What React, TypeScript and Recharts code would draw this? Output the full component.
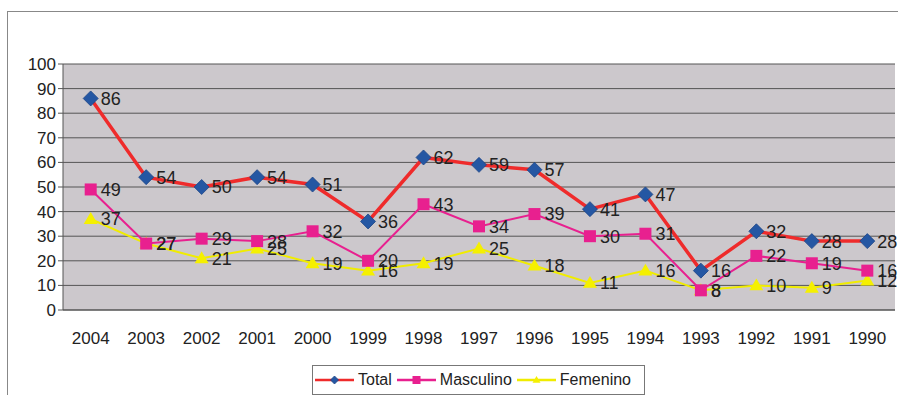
import { LineChart, Line, XAxis, YAxis, CartesianGrid, LabelList } from "recharts";

const years = ["2004", "2003", "2002", "2001", "2000", "1999", "1998", "1997", "1996", "1995", "1994", "1993", "1992", "1991", "1990"];
const total = [86, 54, 50, 54, 51, 36, 62, 59, 57, 41, 47, 16, 32, 28, 28];
const masculino = [49, 27, 29, 28, 32, 20, 43, 34, 39, 30, 31, 8, 22, 19, 16];
const femenino = [37, 27, 21, 25, 19, 16, 19, 25, 18, 11, 16, 8, 10, 9, 12];
const yTicks = [0, 10, 20, 30, 40, 50, 60, 70, 80, 90, 100];

const data = years.map((year, i) => ({
  year,
  total: total[i],
  masculino: masculino[i],
  femenino: femenino[i],
}));

const font = "'Liberation Sans', Arial, sans-serif";

// markers take "size" (recharts passes its own r to dots)
const Diamond = (props: any) => {
  const { cx, cy, size = 7.5 } = props;
  if (cx == null || cy == null) return null;
  const r = size;
  return <path d={`M${cx},${cy - r}L${cx + r},${cy}L${cx},${cy + r}L${cx - r},${cy}Z`} fill="#2557a3" stroke="#1d4586" strokeWidth={0.8} />;
};

const Square = (props: any) => {
  const { cx, cy, size = 6 } = props;
  if (cx == null || cy == null) return null;
  return <rect x={cx - size} y={cy - size} width={size * 2} height={size * 2} fill="#e8208f" />;
};

const Triangle = (props: any) => {
  const { cx, cy, size = 7 } = props;
  if (cx == null || cy == null) return null;
  const r = size;
  return <path d={`M${cx},${cy - r}L${cx + r},${cy + r * 0.7}L${cx - r},${cy + r * 0.7}Z`} fill="#f5f000" />;
};

const legendItems = [
  { name: "Total", line: "#ef2b2b", Mark: Diamond, gap: 5 },
  { name: "Masculino", line: "#e8208f", Mark: Square, gap: 5 },
  { name: "Femenino", line: "#f0ec00", Mark: Triangle, gap: 3 },
];

const LegendBox = () => (
  <div
    style={{
      position: "absolute",
      left: 312,
      top: 365,
      width: 329,
      height: 28,
      display: "flex",
      alignItems: "center",
      border: "1px solid #777",
      paddingLeft: 2,
      boxSizing: "content-box",
      fontFamily: font,
      fontSize: 16,
      color: "#222",
      background: "#fff",
      whiteSpace: "nowrap",
    }}
  >
    {legendItems.map(({ name, line, Mark, gap }) => (
      <span key={name} style={{ display: "inline-flex", alignItems: "center", marginRight: gap }}>
        <svg width={39} height={14}>
          <line x1={0} y1={7} x2={39} y2={7} stroke={line} strokeWidth={2.5} />
          <Mark cx={19.5} cy={7} size={4} />
        </svg>
        <span style={{ marginLeft: 4 }}>{name}</span>
      </span>
    ))}
  </div>
);

const labelStyle = { fontFamily: font, fontSize: 18, fill: "#222" };

export default function App() {
  return (
    <div style={{ position: "absolute", left: 0, top: 0, width: 898, height: 395, background: "#fff", overflow: "hidden" }}>
      <div style={{ position: "absolute", left: 7, top: 11, width: 900, height: 400, border: "1px solid #888" }} />
      <LineChart width={898} height={395} data={data} margin={{ top: 64, right: 3, bottom: 40, left: 0 }}>
        <CartesianGrid vertical={false} stroke="#555" fill="#ccc8cc" />
        <XAxis
          dataKey="year"
          padding={{ left: 27.7, right: 27.7 }}
          tickLine={false}
          axisLine={{ stroke: "#555" }}
          tick={{ fontFamily: font, fontSize: 17, fill: "#222" }}
          tickMargin={16}
          height={45}
          interval={0}
        />
        <YAxis
          domain={[0, 100]}
          ticks={yTicks}
          width={63}
          axisLine={{ stroke: "#555" }}
          tickLine={{ stroke: "#555" }}
          tickSize={5}
          tick={{ fontFamily: font, fontSize: 17, fill: "#222" }}
          interval={0}
        />
        <Line dataKey="femenino" name="Femenino" stroke="#f0ec00" strokeWidth={2} dot={<Triangle />} isAnimationActive={false}>
          <LabelList dataKey="femenino" position="right" offset={10} style={labelStyle} />
        </Line>
        <Line dataKey="masculino" name="Masculino" stroke="#e8208f" strokeWidth={2} dot={<Square />} isAnimationActive={false}>
          <LabelList dataKey="masculino" position="right" offset={10} style={labelStyle} />
        </Line>
        <Line dataKey="total" name="Total" stroke="#ef2b2b" strokeWidth={3.5} dot={<Diamond />} isAnimationActive={false}>
          <LabelList dataKey="total" position="right" offset={10} style={labelStyle} />
        </Line>
      </LineChart>
      <LegendBox />
    </div>
  );
}
